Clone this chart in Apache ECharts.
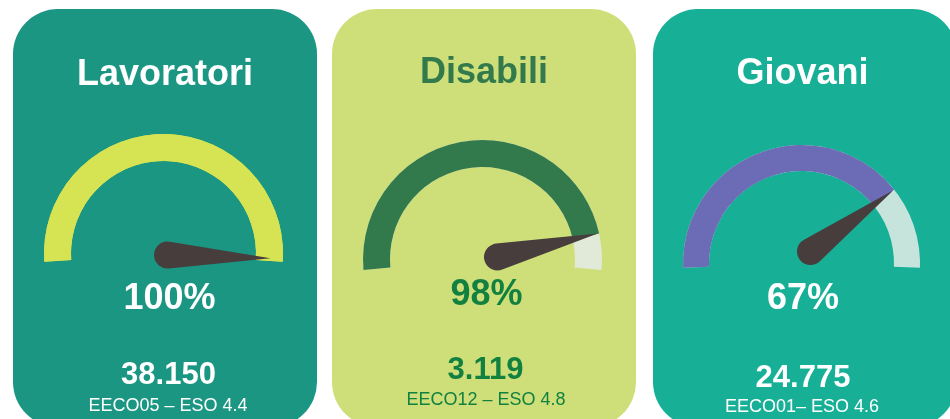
<!DOCTYPE html>
<html>
<head>
<meta charset="utf-8">
<script src="https://cdn.jsdelivr.net/npm/echarts@6/dist/echarts.min.js"></script>
<style>
  html, body { margin: 0; padding: 0; background: #ffffff; }
  #chart { width: 950px; height: 419px; }
</style>
</head>
<body>
<div id="chart"></div>
<script>
// card data
const titles = ['Lavoratori', 'Disabili', 'Giovani']
const percents = [100, 98, 67]
// full scale of each dial (the needles are not drawn on a common 0-100 scale)
const dialMax = [100, 108, 86]
const counts = ['38.150', '3.119', '24.775']
const codes = ['EECO05 – ESO 4.4', 'EECO12 – ESO 4.8', 'EECO01– ESO 4.6']

const FONT = "'Liberation Sans', Arial, sans-serif"

// layout / style for each card
const cards = [
  {
    x: 13, bg: '#1b9682', fill: '#d6e352', rest: '#d6e352', text: '#ffffff', titleColor: '#ffffff',
    arc: { cx: 163.5, cy: 253.5, r: 119.5, w: 27, start: 184, end: -4 },
    needle: { cx: 167.5, cy: 255, start: 180, end: -1.8 },
    ty: 75, tx: 165, py: 299, px: 169.5, vy: 375.5, vx: 168.5, sy: 406.5, sx: 168
  },
  {
    x: 332, bg: '#cedf7a', fill: '#327a4c', rest: '#e1ead9', text: '#12813f', titleColor: '#327a4c',
    arc: { cx: 482.5, cy: 259.5, r: 119.5, w: 27, start: 185, end: -5 },
    needle: { cx: 497.5, cy: 257, start: 180, end: -3.8 },
    ty: 73, tx: 484, py: 295.5, px: 486.5, vy: 370, vx: 485.5, sy: 400, sx: 486
  },
  {
    x: 653, bg: '#17b097', fill: '#6c6bb5', rest: '#c6e4dc', text: '#ffffff', titleColor: '#ffffff',
    arc: { cx: 801.5, cy: 263.5, r: 118.5, w: 26, start: 182, end: -2 },
    needle: { cx: 810.5, cy: 251.5, start: 180, end: -4.3 },
    ty: 74.5, tx: 802.5, py: 299, px: 803, vy: 378.5, vx: 803, sy: 407.5, sx: 802
  }
]

const NEEDLE_LEN = 103
const NEEDLE_BASE = 13.5
const needlePath = 'path://M13.5 0 L26.88 101.24 A13.5 13.5 0 1 1 0.12 101.24 Z'

const chart = echarts.init(document.getElementById('chart'), null, { renderer: 'canvas' })

const graphics = []
const series = []

cards.forEach((c, i) => {
  graphics.push({
    type: 'rect', z: 0,
    shape: { x: c.x, y: 9, width: 304, height: 418, r: 45 },
    style: { fill: c.bg }
  })

  const txt = (x, y, s, size, weight, color) => ({
    type: 'text', z: 5, x: x, y: y,
    style: {
      text: s, fill: color, font: weight + ' ' + size + 'px ' + FONT,
      align: 'center', verticalAlign: 'middle'
    }
  })
  graphics.push(txt(c.tx, c.ty, titles[i], 36, 'bold', c.titleColor))
  graphics.push(txt(c.px, c.py, percents[i] + '%', 36, 'bold', c.text))
  graphics.push(txt(c.vx, c.vy, counts[i], 31, 'bold', c.text))
  graphics.push(txt(c.sx, c.sy, codes[i], 18, 'normal', c.text))

  // dial arc
  series.push({
    type: 'gauge',
    z: 2,
    center: [c.arc.cx, c.arc.cy],
    radius: c.arc.r,
    startAngle: c.arc.start,
    endAngle: c.arc.end,
    min: 0,
    max: dialMax[i],
    axisLine: { lineStyle: { width: c.arc.w, color: [[1, c.rest]] } },
    progress: { show: true, width: c.arc.w, roundCap: false, itemStyle: { color: c.fill } },
    pointer: { show: false },
    anchor: { show: false },
    axisTick: { show: false },
    splitLine: { show: false },
    axisLabel: { show: false },
    title: { show: false },
    detail: { show: false },
    data: [{ value: percents[i] }]
  })

  // needle
  series.push({
    type: 'gauge',
    z: 3,
    center: [c.needle.cx, c.needle.cy],
    radius: NEEDLE_LEN,
    startAngle: c.needle.start,
    endAngle: c.needle.end,
    min: 0,
    max: dialMax[i],
    axisLine: { show: false },
    progress: { show: false },
    pointer: {
      show: true,
      icon: needlePath,
      width: NEEDLE_BASE * 2,
      length: NEEDLE_LEN + NEEDLE_BASE,
      offsetCenter: [0, NEEDLE_BASE],
      itemStyle: { color: '#473d3d' }
    },
    anchor: { show: false },
    axisTick: { show: false },
    splitLine: { show: false },
    axisLabel: { show: false },
    title: { show: false },
    detail: { show: false },
    data: [{ value: percents[i] }]
  })
})

chart.setOption({
  animation: false,
  backgroundColor: '#ffffff',
  graphic: { elements: graphics },
  series: series
})
</script>
</body>
</html>
